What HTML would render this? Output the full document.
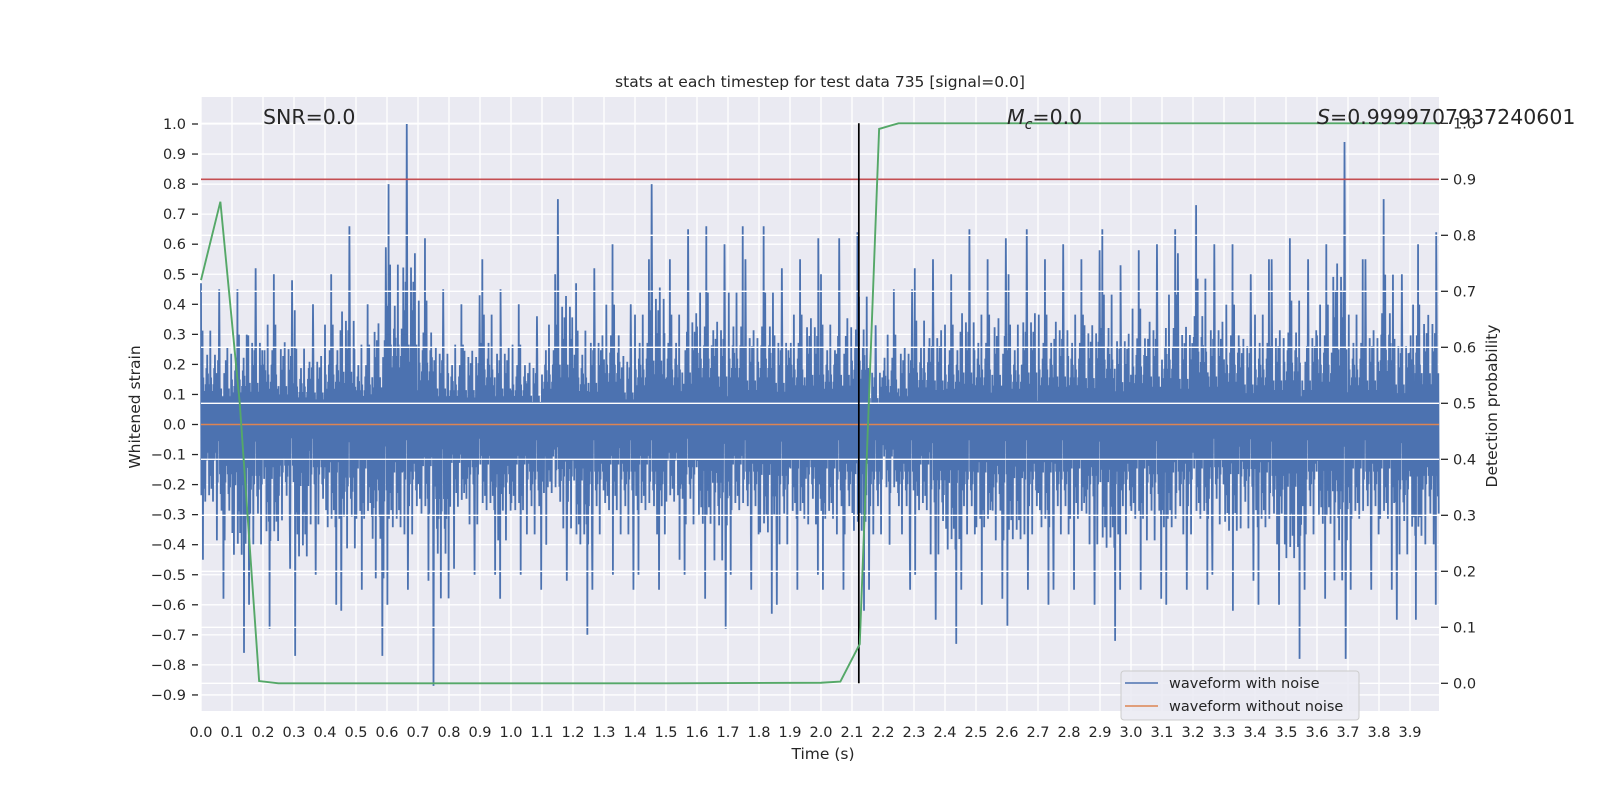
<!DOCTYPE html>
<html><head><meta charset="utf-8"><style>
body{margin:0;background:#fff;}
svg{display:block;font-family:"DejaVu Sans","Liberation Sans",sans-serif;}
</style></head><body>
<svg id="chart" width="1600" height="800" xmlns="http://www.w3.org/2000/svg">
<rect width="1600" height="800" fill="#fff"/>
<text x="820" y="87" text-anchor="middle" font-size="15.5" fill="#262626">stats at each timestep for test data 735 [signal=0.0]</text>
<rect x="201" y="97" width="1238" height="614" fill="#eaeaf2"/>
<g id="grid"></g>
<g id="noise"></g>
<g id="rgrid"></g>
<g id="marks"></g>
<g id="ticks"></g>
<text x="263" y="124" font-size="20.5" fill="#262626">SNR=0.0</text>
<text x="1007" y="124" font-size="20.5" fill="#262626"><tspan font-style="italic">M</tspan><tspan font-style="italic" font-size="14" dy="5">c</tspan><tspan dy="-5">=0.0</tspan></text>
<text x="1317" y="124" font-size="20.5" fill="#262626"><tspan font-style="italic">S</tspan>=0.9999707937240601</text>
<text x="823" y="759" text-anchor="middle" font-size="15.5" fill="#262626">Time (s)</text>
<text transform="translate(140,407) rotate(-90)" text-anchor="middle" font-size="15.5" fill="#262626">Whitened strain</text>
<text transform="translate(1497,406) rotate(-90)" text-anchor="middle" font-size="15.5" fill="#262626">Detection probability</text>
<g>
<rect x="1121" y="671" width="238" height="49" rx="3" fill="#eaeaf2" fill-opacity="0.85" stroke="#cccccc"/>
<line x1="1125" y1="683" x2="1158" y2="683" stroke="#4c72b0" stroke-width="1.5"/>
<text x="1169" y="688" font-size="14.5" fill="#262626">waveform with noise</text>
<line x1="1125" y1="706" x2="1158" y2="706" stroke="#dd8452" stroke-width="1.5"/>
<text x="1169" y="711" font-size="14.5" fill="#262626">waveform without noise</text>
</g>
</svg>
<script>
const binStarts=[0.00,0.05,0.10,0.15,0.20,0.25,0.30,0.35,0.40,0.45,0.50,0.55,0.60,0.65,0.70,0.75,0.80,0.85,0.90,0.95,1.00,1.05,1.10,1.15,1.20,1.25,1.30,1.35,1.40,1.45,1.50,1.55,1.60,1.65,1.70,1.75,1.80,1.85,1.90,1.95,2.00,2.05,2.10,2.15,2.20,2.25,2.30,2.35,2.40,2.45,2.50,2.55,2.60,2.65,2.70,2.75,2.80,2.85,2.90,2.95,3.00,3.05,3.10,3.15,3.20,3.25,3.30,3.35,3.40,3.45,3.50,3.55,3.60,3.65,3.70,3.75,3.80,3.85,3.90,3.94];
const binMax=[0.47,0.45,0.45,0.52,0.50,0.48,0.38,0.40,0.50,0.66,0.40,0.59,0.80,1.00,0.62,0.45,0.40,0.43,0.55,0.45,0.40,0.36,0.50,0.75,0.47,0.52,0.60,0.40,0.55,0.80,0.55,0.65,0.66,0.60,0.66,0.55,0.66,0.52,0.55,0.62,0.50,0.62,0.64,0.33,0.45,0.45,0.52,0.55,0.50,0.65,0.55,0.62,0.50,0.65,0.55,0.60,0.55,0.58,0.65,0.53,0.58,0.60,0.65,0.57,0.73,0.60,0.60,0.50,0.55,0.55,0.62,0.55,0.60,0.94,0.55,0.55,0.75,0.50,0.60,0.64];
const binMin=[-0.45,-0.58,-0.76,-0.60,-0.68,-0.48,-0.77,-0.50,-0.60,-0.62,-0.55,-0.77,-0.60,-0.55,-0.52,-0.87,-0.48,-0.50,-0.50,-0.58,-0.50,-0.55,-0.40,-0.52,-0.70,-0.55,-0.50,-0.55,-0.50,-0.55,-0.45,-0.50,-0.58,-0.68,-0.50,-0.55,-0.63,-0.60,-0.55,-0.50,-0.55,-0.55,-0.62,-0.55,-0.40,-0.55,-0.50,-0.65,-0.73,-0.55,-0.60,-0.58,-0.67,-0.55,-0.60,-0.55,-0.55,-0.60,-0.72,-0.55,-0.55,-0.58,-0.60,-0.55,-0.55,-0.50,-0.62,-0.52,-0.60,-0.60,-0.78,-0.55,-0.58,-0.78,-0.55,-0.55,-0.55,-0.65,-0.65,-0.60];
const probTimes=[0,0.0625,0.125,0.1875,0.25,0.5,1.0,1.5,2.0,2.0625,2.125,2.1875,2.25,2.5,3.0,3.5,3.994];
const probValues=[0.72,0.86,0.5,0.004,0.0,0.0,0.0,0.0,0.001,0.003,0.07,0.99,1.0,1.0,1.0,1.0,1.0];
const threshold=[0.9];
const eventTime=[2.122];
const xTickLabels=["0.0","0.1","0.2","0.3","0.4","0.5","0.6","0.7","0.8","0.9","1.0","1.1","1.2","1.3","1.4","1.5","1.6","1.7","1.8","1.9","2.0","2.1","2.2","2.3","2.4","2.5","2.6","2.7","2.8","2.9","3.0","3.1","3.2","3.3","3.4","3.5","3.6","3.7","3.8","3.9"];
const yTickLabels=["-0.9","-0.8","-0.7","-0.6","-0.5","-0.4","-0.3","-0.2","-0.1","0.0","0.1","0.2","0.3","0.4","0.5","0.6","0.7","0.8","0.9","1.0"];
const y2TickLabels=["0.0","0.1","0.2","0.3","0.4","0.5","0.6","0.7","0.8","0.9","1.0"];

const NS='http://www.w3.org/2000/svg';
const X=t=>201+t*310;
const Y=v=>124+(1-v)*300.5;
const Y2=p=>683.3-p*560;
function mk(tag,attrs,parent){const e=document.createElementNS(NS,tag);for(const k in attrs)e.setAttribute(k,attrs[k]);parent.appendChild(e);return e;}
const grid=document.getElementById('grid'),rgrid=document.getElementById('rgrid'),marks=document.getElementById('marks'),ticks=document.getElementById('ticks'),noise=document.getElementById('noise');

xTickLabels.forEach(l=>{const x=X(parseFloat(l));
 const g=mk('line',{x1:x,x2:x,y1:97,y2:711,stroke:'#fff','stroke-width':1.3},grid);
 
 
 const t=mk('text',{x:x,y:737,'text-anchor':'middle','font-size':14.5,fill:'#262626'},ticks);t.textContent=l;
 
 
});
yTickLabels.forEach(l=>{const y=Y(parseFloat(l));
 const g=mk('line',{x1:201,x2:1439,y1:y,y2:y,stroke:'#fff','stroke-width':1.3},grid);
 
 
 mk('line',{x1:192,x2:198,y1:y,y2:y,stroke:'#262626','stroke-width':1.3},ticks);
 const t=mk('text',{x:186,y:y+5,'text-anchor':'end','font-size':14.5,fill:'#262626'},ticks);t.textContent=l.replace('-','\u2212');
 
 
});
y2TickLabels.forEach(l=>{const y=Y2(parseFloat(l));
 const g=mk('line',{x1:201,x2:1439,y1:y,y2:y,stroke:'#fff','stroke-width':1.3},rgrid);
 
 
 mk('line',{x1:1441,x2:1448,y1:y,y2:y,stroke:'#262626','stroke-width':1.3},ticks);
 const t=mk('text',{x:1453,y:y+5,'font-size':14.5,fill:'#262626'},ticks);t.textContent=l;
 
 
});

const shape=[0.3,0.55,0.15,0.4,0.7,0.2,0.35,0.5,0.1,0.45,0.25,0.6,0.3,0.18,0.42,0.28,0.52,0.12,0.38,0.22];
let pts=[];
binStarts.forEach((t0,i)=>{
 const n=40;
 const w=(i+1<binStarts.length?binStarts[i+1]:3.994)-t0;
 const peakUp=(i*7)%n, peakDn=(i*13+5)%n;
 for(let k=0;k<n;k++){
  const t=t0+k*w/n;
  let v;
  if(k===peakUp)v=binMax[i];
  else if(k===peakDn)v=binMin[i];
  else{const s=shape[(k+i*3)%shape.length];v=(k%2===0)?s*binMax[i]*0.95:s*binMin[i]*0.95;}
  pts.push(X(t).toFixed(2)+','+Y(v).toFixed(1));
 }
});
const nl=mk('polyline',{points:pts.join(' '),fill:'none',stroke:'#4c72b0','stroke-width':1.8},noise);



const clean=mk('line',{x1:201,x2:1439,y1:Y(0),y2:Y(0),stroke:'#dd8452','stroke-width':1.5},marks);


const th=mk('line',{x1:201,x2:1439,y1:Y2(threshold[0]),y2:Y2(threshold[0]),stroke:'#c44e52','stroke-width':1.6},marks);


const ev=mk('line',{x1:X(eventTime[0]),x2:X(eventTime[0]),y1:Y2(1),y2:Y2(0),stroke:'#000','stroke-width':1.7},marks);


const pl=mk('polyline',{points:probTimes.map((t,i)=>X(t)+','+Y2(probValues[i])).join(' '),fill:'none',stroke:'#55a868','stroke-width':1.9},marks);


</script>
</body></html>
